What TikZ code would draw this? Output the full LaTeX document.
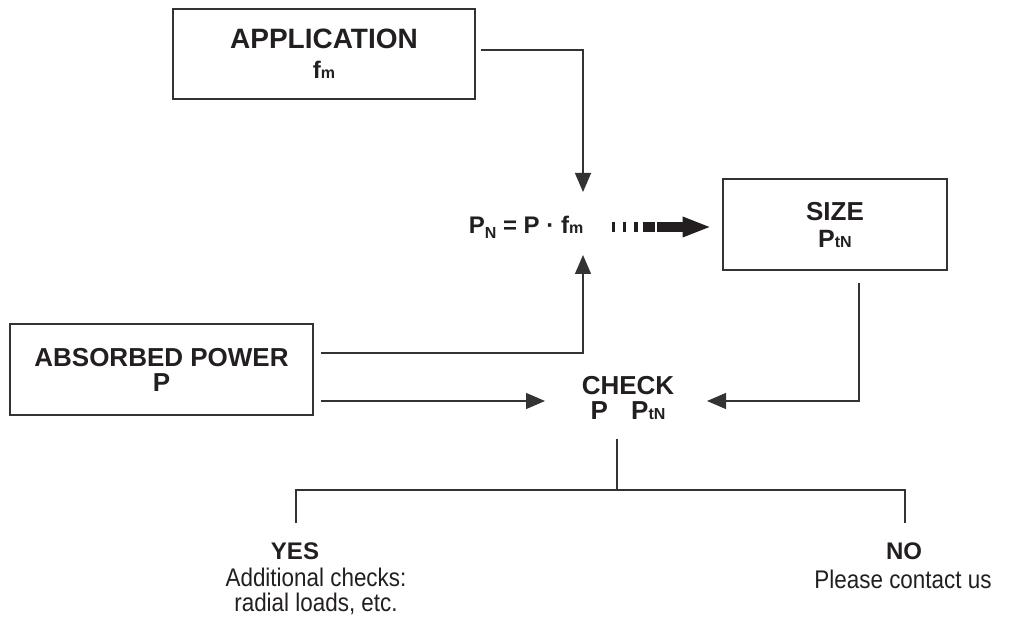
\documentclass[tikz,border=0pt]{standalone}
\usepackage{fontspec}
\setmainfont{Liberation Sans}
\newfontfamily\condfont[FakeStretch=0.88]{Liberation Sans}
\usetikzlibrary{arrows.meta,calc}
\definecolor{linec}{HTML}{333333}
\definecolor{textc}{HTML}{231F20}
\newcommand\bsub[1]{{\fontsize{16}{16}\selectfont #1}}
\begin{document}
\begin{tikzpicture}[x=1pt,y=-1pt,
  box/.style={draw=linec, line width=1.2pt, align=center, inner sep=0pt, text=textc,
    font=\fontsize{26}{31}\selectfont\bfseries},
  lbl/.style={align=center, inner sep=0pt, text=textc, font=\fontsize{26}{31}\selectfont\bfseries},
  answer/.style={align=center, inner sep=0pt, text=textc, font=\fontsize{24}{24}\selectfont\bfseries},
  desc/.style={align=center, inner sep=0pt, text=textc, font=\condfont\fontsize{25.5}{25}\selectfont},
  conn/.style={draw=linec, line width=1.2pt},
  arr/.style={conn, -{Triangle[length=19pt,width=16pt]}},
  dasharr/.style={draw=textc, line width=10.7pt,
    dash pattern=on 3pt off 7.7pt on 3.3pt off 7.3pt on 4.4pt off 5pt on 11.6pt off 2.4pt on 40pt,
    -{Triangle[length=26.7pt,width=21pt,line width=0pt]}},
]
\useasboundingbox (0,0) rectangle (1014,617);

% boxes
\node[box, minimum width=302pt, minimum height=90pt, font=\fontsize{28}{31}\selectfont\bfseries] (app) at (324,54)
  {APPLICATION\\[-1pt]{\fontsize{24}{24}\selectfont f\bsub{m}}};
\node[box, minimum width=303pt, minimum height=91pt] (abs) at (161.5,369.5)
  {ABSORBED POWER\\[-6pt]P};
\node[box, minimum width=224pt, minimum height=91pt] (size) at (835,224.5)
  {SIZE\\[-4pt]{\fontsize{25}{25}\selectfont P\bsub{tN}}};

% free labels
\node[lbl] (form) at (526,227)
  {{\fontsize{24}{24}\selectfont P\raisebox{-5pt}{\bsub{N}} = P · f\bsub{m}}};
\node[lbl] (chk) at (628,398) {CHECK\\[-6pt]P\hspace{0.9em}P\bsub{tN}};
\node[answer] (yes) at (295,551) {YES};
\node[desc] (yesd) at (316,591) {Additional checks:\\radial loads, etc.};
\node[answer] (no) at (904,551) {NO};
\node[desc] (nod) at (903,579) {Please contact us};

% connector end points
\coordinate (tipA) at (583,192);
\coordinate (tipB) at (583,255);
\coordinate (tipC) at (545,401);
\coordinate (tipD) at (707,401);
\coordinate (chkout) at (617,439);
\coordinate (split) at (617,490);
\coordinate (yd) at (296,523);
\coordinate (nd) at (905,523);

% connectors
\draw[arr] ([xshift=5pt,yshift=4pt]app.east) -| (tipA);
\draw[arr] ([xshift=7pt,yshift=16.5pt]abs.east) -| (tipB);
\draw[arr] ([xshift=7pt,yshift=-31.5pt]abs.east) -- (tipC);
\draw[arr] ([xshift=24pt,yshift=-12pt]size.south) |- (tipD);
\draw[conn] (chkout) -- (split);
\draw[conn] (yd) |- (split) -| (nd);

% thick dashed arrow from formula to size
\coordinate (ds) at ([xshift=29pt]form.east);
\draw[dasharr] (ds) -- ($(ds -| size.west)+(-13,0)$);
\end{tikzpicture}
\end{document}
